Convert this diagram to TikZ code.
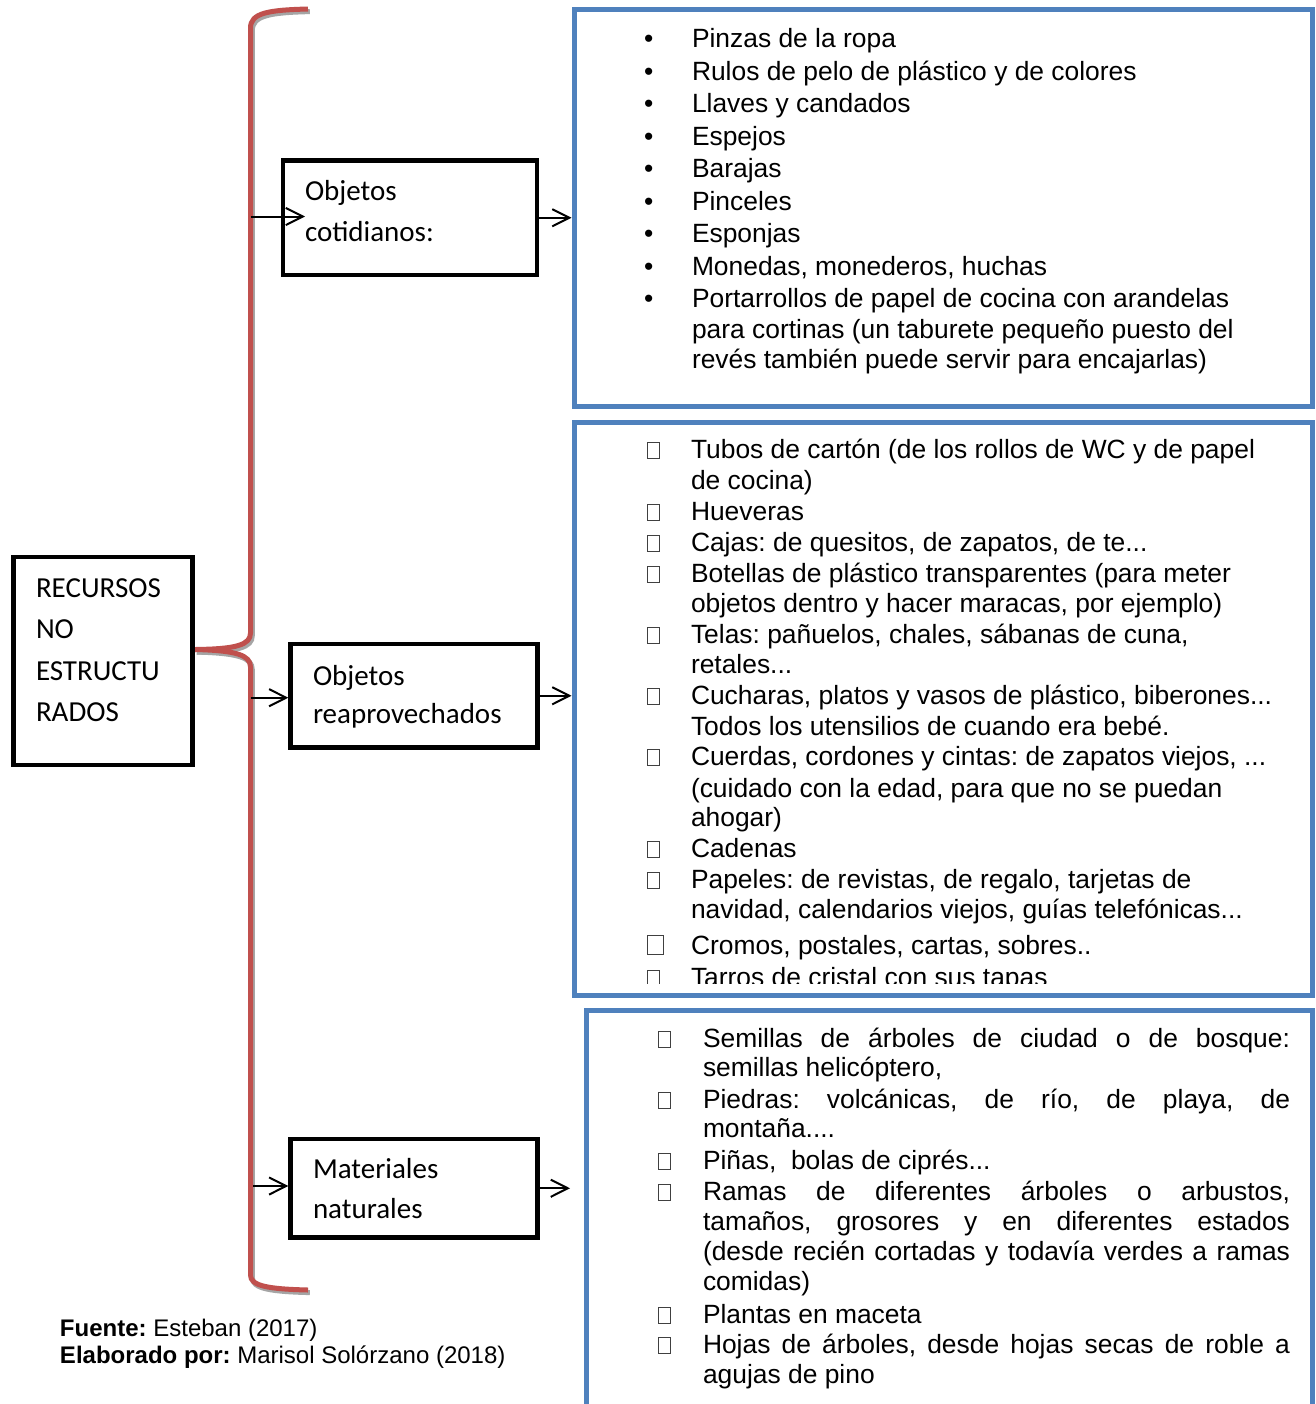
\documentclass[tikz,border=0pt]{standalone}
\usepackage{fontspec}
\setmainfont{Liberation Sans}
\newfontfamily\calib{Carlito}
\usetikzlibrary{arrows.meta}
\frenchspacing
\definecolor{bracered}{HTML}{C0504D}
\definecolor{boxblue}{HTML}{4F81BD}
\definecolor{shadowgray}{HTML}{A5A5A5}
\definecolor{tofugray}{HTML}{404040}
\newcommand\tofu{{\setlength\fboxsep{0pt}\setlength\fboxrule{0.45pt}\color{tofugray}\fbox{\rule{0pt}{7.6pt}\hspace{5.6pt}}}}
\newcommand\bigtofu{{\setlength\fboxsep{0pt}\setlength\fboxrule{0.5pt}\color{tofugray}\fbox{\rule{0pt}{9pt}\hspace{7.5pt}}}}
\newcommand\jline[1]{\makebox[293.5pt][s]{#1}}
\newcommand\bl{\makebox[24pt][l]{•}}
\newcommand\tb{\makebox[22pt][l]{\tofu}}
\newcommand\tc{\makebox[22.5pt][l]{\tofu}}
\begin{document}
\begin{tikzpicture}[x=0.5pt,y=-0.5pt,
  blackbox/.style={draw=black, line width=2.2pt, inner sep=0pt},
  bluebox/.style={draw=boxblue, line width=2.5pt, inner sep=0pt},
  lst/.style={anchor=base west, inner sep=0pt, outer sep=0pt, font=\frenchspacing\fontsize{13.2pt}{15pt}\selectfont},
  bx/.style={anchor=base west, inner sep=0pt, outer sep=0pt, font=\calib\fontsize{14.5pt}{17pt}\selectfont},
  foot/.style={anchor=base west, inner sep=0pt, outer sep=0pt, font=\frenchspacing\fontsize{12pt}{14.5pt}\selectfont},
  arr/.style={line width=1pt, -{Straight Barb[length=8.5pt,width=8.6pt,line width=1pt]}},
  brace/.style={line width=2.5pt, line cap=butt}
]
\useasboundingbox (0,0) rectangle (1316,1404);
\fill[white] (0,0) rectangle (1316,1404);

% ---------- brace ----------
\begin{scope}[shift={(1.8,2.6)}]
\draw[brace, shadowgray] (308,9) .. controls (268,10) and (250.5,13) .. (250.5,28) -- (250.5,633)
  .. controls (250.5,645) and (236,649) .. (195,649.5);
\draw[brace, shadowgray] (195,649.5) .. controls (236,650.5) and (250.5,655) .. (250.5,667) -- (250.5,1275)
  .. controls (250.5,1286) and (268,1289) .. (308,1290);
\end{scope}
\draw[brace, bracered] (308,9) .. controls (268,10) and (250.5,13) .. (250.5,28) -- (250.5,633)
  .. controls (250.5,645) and (236,649) .. (195,649.5);
\draw[brace, bracered] (195,649.5) .. controls (236,650.5) and (250.5,655) .. (250.5,667) -- (250.5,1275)
  .. controls (250.5,1286) and (268,1289) .. (308,1290);

% ---------- black boxes ----------
\node[blackbox, minimum width=89.5pt, minimum height=104pt] (root) at (103,661) {};
\node[bx] (rootl1) at (36,597) {RECURSOS};
\node[bx] (rootl2) at (36,638) {NO};
\node[bx] (rootl3) at (36,680) {ESTRUCTU};
\node[bx] (rootl4) at (36,721) {RADOS};

\node[blackbox, minimum width=127pt, minimum height=57.25pt] (box1) at (410,217.75) {};
\node[bx] (box1l1) at (305,200) {Objetos};
\node[bx] (box1l2) at (305,241) {cotidianos:};

\node[blackbox, minimum width=123.5pt, minimum height=51.75pt] (box2) at (414,695.75) {};
\node[bx] (box2l1) at (313,685) {Objetos};
\node[bx] (box2l2) at (313,723) {reaprovechados};

\node[blackbox, minimum width=123.5pt, minimum height=49.25pt] (box3) at (414,1188.25) {};
\node[bx] (box3l1) at (313,1178) {Materiales};
\node[bx] (box3l2) at (313,1218) {naturales};

% ---------- blue boxes ----------
\node[bluebox, minimum width=369pt, minimum height=198.5pt] (blue1) at (943,208) {};
\node[bluebox, minimum width=369pt, minimum height=286.5pt] (blue2) at (943,709) {};
\node[bluebox, minimum width=362.75pt, minimum height=209pt] (blue3) at (949.25,1219.5) {};

% ---------- list 1 ----------
\node[lst] (a1) at (644,47) {\bl Pinzas de la ropa};
\node[lst] (a2) at (644,80) {\bl Rulos de pelo de plástico y de colores};
\node[lst] (a3) at (644,112) {\bl Llaves y candados};
\node[lst] (a4) at (644,145) {\bl Espejos};
\node[lst] (a5) at (644,177) {\bl Barajas};
\node[lst] (a6) at (644,210) {\bl Pinceles};
\node[lst] (a7) at (644,242) {\bl Esponjas};
\node[lst] (a8) at (644,275) {\bl Monedas, monederos, huchas};
\node[lst] (a9) at (644,307) {\bl Portarrollos de papel de cocina con arandelas};
\node[lst] (a10) at (692,338) {para cortinas (un taburete pequeño puesto del};
\node[lst] (a11) at (692,368) {revés también puede servir para encajarlas)};

% ---------- list 2 ----------
\node[lst] (c1) at (647,458) {\tb Tubos de cartón (de los rollos de WC y de papel};
\node[lst] (c2) at (691,489) {de cocina)};
\node[lst] (c3) at (647,520) {\tb Hueveras};
\node[lst] (c4) at (647,551) {\tb Cajas: de quesitos, de zapatos, de te...};
\node[lst] (c5) at (647,582) {\tb Botellas de plástico transparentes (para meter};
\node[lst] (c6) at (691,612) {objetos dentro y hacer maracas, por ejemplo)};
\node[lst] (c7) at (647,643) {\tb Telas: pañuelos, chales, sábanas de cuna,};
\node[lst] (c8) at (691,673) {retales...};
\node[lst] (c9) at (647,704) {\tb Cucharas, platos y vasos de plástico, biberones...};
\node[lst] (c10) at (691,735) {Todos los utensilios de cuando era bebé.};
\node[lst] (c11) at (647,765) {\tb Cuerdas, cordones y cintas: de zapatos viejos, ...};
\node[lst] (c12) at (691,797) {(cuidado con la edad, para que no se puedan};
\node[lst] (c13) at (691,826) {ahogar)};
\node[lst] (c14) at (647,857) {\tb Cadenas};
\node[lst] (c15) at (647,888) {\tb Papeles: de revistas, de regalo, tarjetas de};
\node[lst] (c16) at (691,918) {navidad, calendarios viejos, guías telefónicas...};
\node[lst] (c17) at (647,954) {\makebox[22pt][l]{\bigtofu}Cromos, postales, cartas, sobres..};
\begin{scope}
\clip (600,960) rectangle (1300,983.5);
\node[lst] (c18) at (647,986) {\tb Tarros de cristal con sus tapas};
\end{scope}

% ---------- list 3 ----------
\node[lst] (d1) at (658,1047) {\tc\jline{Semillas de árboles de ciudad o de bosque:}};
\node[lst] (d2) at (703,1076) {semillas helicóptero,};
\node[lst] (d3) at (658,1108) {\tc\jline{Piedras: volcánicas, de río, de playa, de}};
\node[lst] (d4) at (703,1137) {montaña....};
\node[lst] (d5) at (658,1169) {\tc Piñas,~ bolas de ciprés...};
\node[lst] (d6) at (658,1200) {\tc\jline{Ramas de diferentes árboles o arbustos,}};
\node[lst] (d7) at (703,1230) {\jline{tamaños, grosores y en diferentes estados}};
\node[lst] (d8) at (703,1260) {\jline{(desde recién cortadas y todavía verdes a ramas}};
\node[lst] (d9) at (703,1290) {comidas)};
\node[lst] (d10) at (658,1323) {\tc Plantas en maceta};
\node[lst] (d11) at (658,1353) {\tc\jline{Hojas de árboles, desde hojas secas de roble a}};
\node[lst] (d12) at (703,1383) {agujas de pino};

% ---------- footer ----------
\node[foot] (src) at (60,1336) {\textbf{Fuente:} Esteban (2017)};
\node[foot] (auth) at (60,1363.5) {\textbf{Elaborado por:} Marisol Solórzano (2018)};

% ---------- connectors ----------
\coordinate (bA) at (250.5,216.5);
\coordinate (tA) at (305,216.5);
\coordinate (bB) at (250.5,697.7);
\coordinate (bC) at (253,1186);
\coordinate (tC) at (570,1186);
\draw[arr] (bA) -- (tA);
\draw[arr] (box1.east) -- (box1.east -| blue1.west);
\draw[arr] (bB) -- (bB -| box2.west);
\draw[arr] (box2.east) -- (box2.east -| blue2.west);
\draw[arr] (bC) -- (bC -| box3.west);
\draw[arr] (box3.east) -- (tC |- box3.east);
\end{tikzpicture}
\end{document}
